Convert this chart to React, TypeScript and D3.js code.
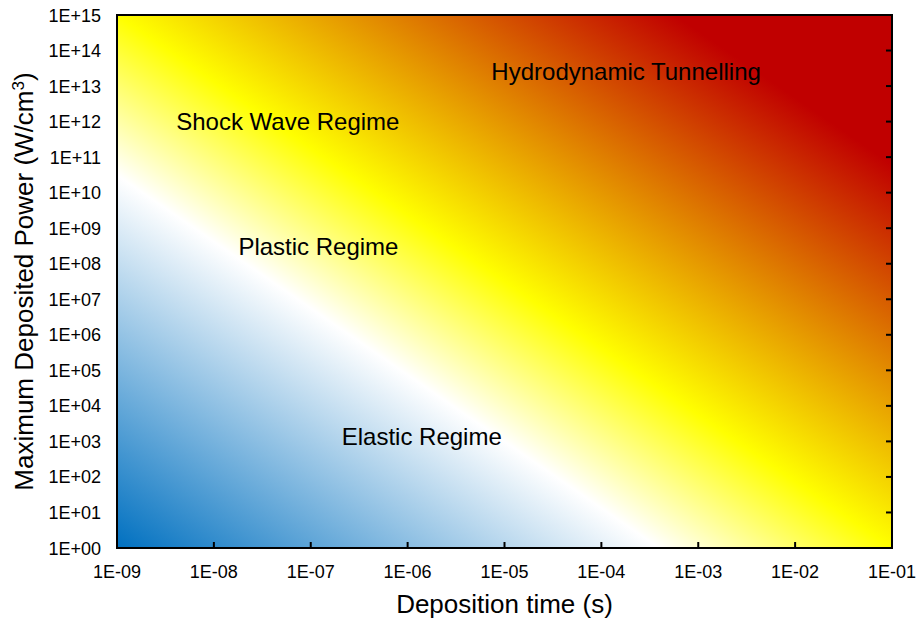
import React, { useEffect, useRef } from 'react';
import * as d3 from 'd3';

// axis decades
const timeTicks = [1e-9, 1e-8, 1e-7, 1e-6, 1e-5, 1e-4, 1e-3, 1e-2, 1e-1];
const powerTicks = [1e0, 1e1, 1e2, 1e3, 1e4, 1e5, 1e6, 1e7, 1e8, 1e9, 1e10, 1e11, 1e12, 1e13, 1e14, 1e15];

// regime labels, placed in data coords (time s, power W/cm3)
const regimeNames = ['Hydrodynamic Tunnelling', 'Shock Wave Regime', 'Plastic Regime', 'Elastic Regime'];
const regimeTimes = [1.8e-4, 5.8e-8, 1.2e-7, 1.4e-6];
const regimePowers = [2.5e13, 1.0e12, 3.0e8, 1.4e3];

// background colour ramp, bottom-left -> top-right
const rampOffsets = [0, 0.35, 0.5, 0.86];
const rampColors = ['#0070C0', '#FFFFFF', '#FFFF00', '#C00000'];

const W = 919, H = 623;
const margin = {left: 117, right: 27, top: 15, bottom: 75};

const fmtExp = (v: number) => {
    const e = Math.round(Math.log10(v));
    return '1E' + (e < 0 ? '-' : '+') + String(Math.abs(e)).padStart(2, '0');
};

export default function App() {
    const ref = useRef<SVGSVGElement>(null);

    useEffect(() => {
        const svg = d3.select(ref.current);
        svg.selectAll('*').remove();
        const font = '"Liberation Sans", Arial, sans-serif';

        const x = d3.scaleLog().domain([1e-9, 1e-1]).range([margin.left, W - margin.right]);
        const y = d3.scaleLog().domain([1e0, 1e15]).range([H - margin.bottom, margin.top]);
        const [x0, x1] = x.range();
        const [y1, y0] = y.range();

        const grad = svg.append('defs').append('linearGradient')
            .attr('id', 'regime')
            .attr('x1', 0).attr('y1', 1).attr('x2', 1).attr('y2', 0);
        rampOffsets.forEach((o, i) => {
            grad.append('stop').attr('offset', o).attr('stop-color', rampColors[i]);
        });

        svg.append('rect')
            .attr('x', x0).attr('y', y0)
            .attr('width', x1 - x0).attr('height', y1 - y0)
            .attr('fill', 'url(#regime)');

        // ticks, pointing inward
        svg.append('g').selectAll('line.xt').data(timeTicks).enter().append('line')
            .attr('x1', d => x(d)).attr('x2', d => x(d))
            .attr('y1', y1).attr('y2', y1 - 6)
            .style('stroke', '#000').style('stroke-width', '2px');
        svg.append('g').selectAll('line.yt').data(powerTicks).enter().append('line')
            .attr('x1', x1).attr('x2', x1 - 6)
            .attr('y1', d => y(d)).attr('y2', d => y(d))
            .style('stroke', '#000').style('stroke-width', '2px');

        svg.append('rect')
            .attr('x', x0).attr('y', y0)
            .attr('width', x1 - x0).attr('height', y1 - y0)
            .attr('fill', 'none')
            .style('stroke', '#000').style('stroke-width', '2px');

        svg.append('g').selectAll('text').data(timeTicks).enter().append('text')
            .attr('x', d => x(d)).attr('y', y1 + 30)
            .attr('text-anchor', 'middle')
            .style('font-family', font).style('font-size', '18px').style('fill', '#000')
            .text(fmtExp);

        svg.append('g').selectAll('text').data(powerTicks).enter().append('text')
            .attr('x', x0 - 16).attr('y', d => y(d) + 6.5)
            .attr('text-anchor', 'end')
            .style('font-family', font).style('font-size', '18px').style('fill', '#000')
            .text(fmtExp);

        svg.append('text')
            .attr('x', (x0 + x1) / 2).attr('y', y1 + 65)
            .attr('text-anchor', 'middle')
            .style('font-family', font).style('font-size', '26px').style('fill', '#000')
            .text('Deposition time (s)');

        const yt = svg.append('text')
            .attr('transform', `translate(33, ${(y0 + y1) / 2}) rotate(-90)`)
            .attr('text-anchor', 'middle')
            .style('font-family', font).style('font-size', '26px').style('fill', '#000');
        yt.append('tspan').text('Maximum Deposited Power (W/cm');
        yt.append('tspan').attr('dy', -9).style('font-size', '17px').text('3');
        yt.append('tspan').attr('dy', 9).text(')');

        svg.append('g').selectAll('text').data(regimeNames).enter().append('text')
            .attr('x', (d, i) => x(regimeTimes[i]))
            .attr('y', (d, i) => y(regimePowers[i]) + 8.5)
            .attr('text-anchor', 'middle')
            .style('font-family', font).style('font-size', '24px').style('fill', '#000')
            .text(d => d);
    }, []);

    return <svg ref={ref} width={W} height={H}
                style={{position: 'absolute', left: 0, top: 0, background: '#fff'}}/>;
}
